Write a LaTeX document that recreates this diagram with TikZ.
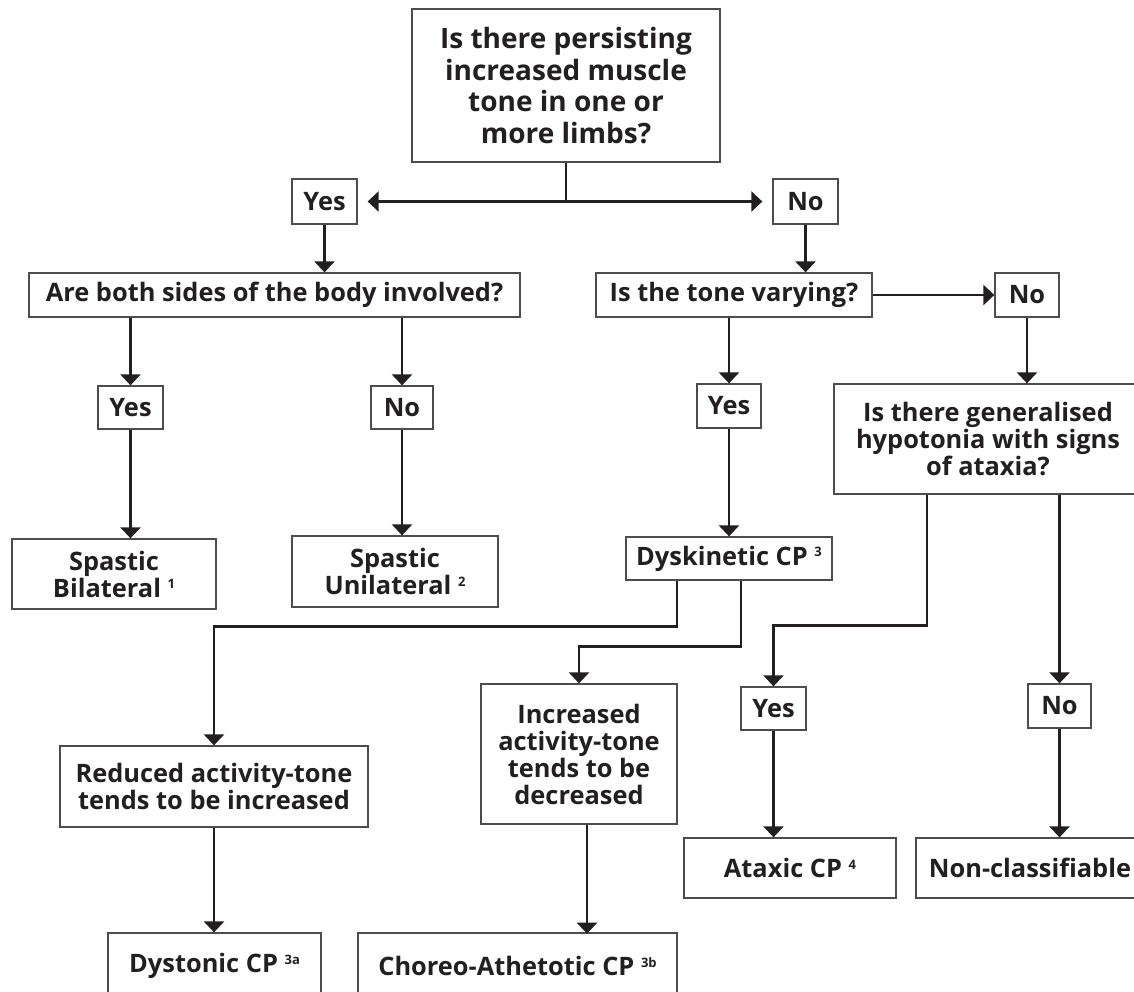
\documentclass[tikz,border=0pt]{standalone}
\usepackage{fontspec}
\setmainfont{Open Sans}
\usetikzlibrary{arrows.meta,calc}
\definecolor{ink}{HTML}{231F20}
\definecolor{frame}{HTML}{4D4D4D}
\newcommand\supr[1]{\raisebox{0.33em}{\fontsize{13}{13}\selectfont #1}}
\begin{document}
\begin{tikzpicture}[x=1pt,y=-1pt,
  box/.style={draw=frame, line width=1.3pt, text=ink, align=center, inner sep=0pt,
    font=\bfseries\fontsize{25.4}{27}\selectfont},
  bigbox/.style={box, font=\bfseries\fontsize{28}{31.7}\selectfont},
  arr/.style={draw=ink, line width=2.6pt, -{Triangle[width=20pt,length=11pt]}},
  ln/.style={draw=ink, line width=2.6pt}]
\useasboundingbox (0,0) rectangle (1134,991);
\fill[white] (0,0) rectangle (1134,991);
\clip (0,0) rectangle (1134,991);

\node[bigbox, minimum width=308pt, minimum height=153pt] (top) at (566,85.5)
  {Is there persisting\\increased muscle\\tone in one or\\more limbs?};
\node[box, minimum width=65pt, minimum height=45pt] (yes1) at (324.5,201.5) {Yes};
\node[box, minimum width=65pt, minimum height=45pt] (no1) at (805.5,201.5) {No};
\node[box, minimum width=491pt, minimum height=44pt] (both) at (274.5,295) {Are both sides of the body involved?};
\node[box, minimum width=276pt, minimum height=44pt] (tone) at (734,295) {Is the tone varying?};
\node[box, minimum width=64pt, minimum height=44pt] (no2) at (1027,295) {No};
\node[box, minimum width=308pt, minimum height=110pt] (hypo) at (988,439)
  {Is there generalised\\hypotonia with signs\\of ataxia?};
\node[box, minimum width=65pt, minimum height=43pt] (yes2) at (130.5,407.5) {Yes};
\node[box, minimum width=62pt, minimum height=43pt] (no3) at (402,407.5) {No};
\node[box, minimum width=64pt, minimum height=44pt] (yes3) at (729,406) {Yes};
\node[box, minimum width=204pt, minimum height=70pt] (bil) at (114,574) {Spastic\\Bilateral \supr{1}};
\node[box, minimum width=206pt, minimum height=71pt] (uni) at (395,571.5) {Spastic\\Unilateral \supr{2}};
\node[box, minimum width=206pt, minimum height=43pt] (dys) at (729,558.5) {Dyskinetic CP \supr{3}};
\node[box, minimum width=308pt, minimum height=81pt] (red) at (214,786.5) {Reduced activity-tone\\tends to be increased};
\node[box, minimum width=196pt, minimum height=140pt] (inc) at (579,754) {Increased\\activity-tone\\tends to be\\decreased};
\node[box, minimum width=213pt, minimum height=66pt] (dysto) at (214.5,966) {Dystonic CP \supr{3a}};
\node[box, minimum width=319pt, minimum height=66pt] (chor) at (517.5,966) {Choreo-Athetotic CP \supr{3b}};
\node[box, minimum width=65pt, minimum height=43pt] (yes4) at (773.5,708.5) {Yes};
\node[box, minimum width=63pt, minimum height=44pt] (no4) at (1059.5,706) {No};
\node[box, minimum width=212pt, minimum height=60pt] (atax) at (790,868) {Ataxic CP \supr{4}};
\node[box, minimum width=228pt, minimum height=60pt] (noncl) at (1030,868) {Non-classifiable};

\coordinate (j1) at (top.south |- yes1.east);
\draw[ln] (top.south) -- (j1);
\draw[arr, shorten >=10pt] (j1) -- (yes1.east);
\draw[arr, shorten >=10pt] (j1) -- (no1.west);
\draw[arr] (yes1.south) -- (yes1.south |- both.north);
\draw[arr] (no1.south) -- (no1.south |- tone.north);
\draw[arr] (tone.east) -- (no2.west);
\draw[arr] (no2.south) -- (no2.south |- hypo.north);
\draw[arr] (yes2.north |- both.south) -- (yes2.north);
\draw[arr] (no3.north |- both.south) -- (no3.north);
\draw[arr] (yes3.north |- tone.south) -- (yes3.north);
\draw[arr] (yes2.south) -- (yes2.south |- bil.north);
\draw[arr] (no3.south) -- (no3.south |- uni.north);
\draw[arr] (yes3.south) -- (yes3.south |- dys.north);
\draw[arr] ([xshift=-52pt]dys.south) -- ++(0,46) -| (red.north);
\draw[arr] ([xshift=12pt]dys.south) -- ++(0,66) -| (inc.north);
\draw[arr] ([xshift=-61pt]hypo.south) -- ++(0,131) -| (yes4.north);
\draw[arr] (no4.north |- hypo.south) -- (no4.north);
\draw[arr] (yes4.south) -- (yes4.south |- atax.north);
\draw[arr] (no4.south) -- (no4.south |- noncl.north);
\draw[arr] (red.south) -- (red.south |- dysto.north);
\draw[arr] ([xshift=8pt]inc.south) -- ++(0,109);
\end{tikzpicture}
\end{document}
